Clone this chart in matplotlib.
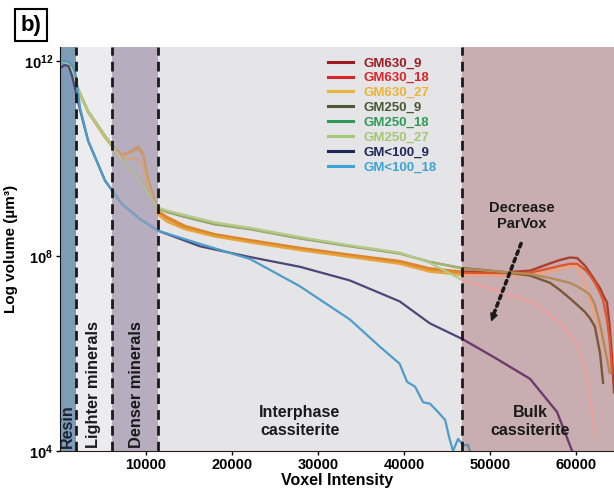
import numpy as np
import matplotlib
matplotlib.use('Agg')
import matplotlib.pyplot as plt
import matplotlib.transforms as mtransforms
from matplotlib.patches import Rectangle
from matplotlib.ticker import NullLocator

plt.rcParams['font.family'] = ['Liberation Sans', 'DejaVu Sans']
plt.rcParams['font.weight'] = 'bold'
plt.rcParams['mathtext.fontset'] = 'custom'
plt.rcParams['mathtext.rm'] = 'Liberation Sans:bold'
plt.rcParams['mathtext.bf'] = 'Liberation Sans:bold'

# ---- data (voxel intensity, log10 of volume in um^3) ----
x_coarse = [0, 800, 1300, 1860, 3260, 5230, 6050, 7200, 8200, 9070, 9650, 10230,
            11050, 11400, 12500, 14540, 18000, 22100, 27900, 33700, 39500, 43000,
            46870, 51170, 54660, 56990, 58150, 59300, 60130, 61060, 61640, 62200,
            62800, 63150, 63600, 63900, 64200, 64420]
nan = np.nan
gm630_9 = [12.0, 11.98, 11.85, 11.52, 10.97, 10.46, 10.27, 10.08, 10.15, 10.25, 10.12, 9.6,
           9.1, 8.92, 8.8, 8.62, 8.45, 8.33, 8.17, 8.03, 7.9, 7.75,
           7.68, 7.66, 7.7, 7.85, 7.92, 7.97, 7.96, 7.8, 7.65, 7.5,
           7.34, 7.2, 7.05, 6.6, 5.9, 5.2]
gm630_18 = [12.0, 11.97, 11.84, 11.5, 10.96, 10.45, 10.26, 10.07, 10.12, 10.2, 10.08, 9.58,
            9.08, 8.9, 8.76, 8.58, 8.42, 8.3, 8.14, 8.0, 7.87, 7.72,
            7.65, 7.64, 7.66, 7.75, 7.8, 7.84, 7.84, 7.72, 7.6, 7.45,
            7.25, 7.1, 6.7, 6.3, 5.6, nan]
gm630_27 = [12.0, 11.97, 11.83, 11.49, 10.95, 10.43, 10.25, 10.02, 10.0, 9.98, 9.85, 9.45,
            9.05, 8.85, 8.7, 8.55, 8.4, 8.28, 8.12, 7.98, 7.84, 7.68,
            7.61, 7.6, 7.6, 7.68, 7.73, 7.78, 7.78, 7.4, 7.1, 6.8,
            6.5, 6.2, 5.9, nan, nan, nan]
gm250_9 = [12.0, 11.98, 11.86, 11.53, 10.98, 10.47, 10.28, 9.97, 9.8, 9.62, 9.48, 9.3,
           9.05, 8.97, 8.9, 8.8, 8.65, 8.55, 8.36, 8.2, 8.05, 7.88,
           7.75, 7.68, 7.6, 7.45, 7.3, 7.13, 7.0, 6.85, 6.72, 6.55,
           6.0, 5.4, nan, nan, nan, nan]
gm250_18 = [12.0, 11.97, 11.85, 11.52, 10.96, 10.46, 10.27, 9.95, 9.78, 9.6, 9.45, 9.28,
            9.04, 8.98, 8.92, 8.82, 8.67, 8.56, 8.37, 8.21, 8.06, 7.88,
            7.74, 7.68, 7.63, 7.55, 7.5, 7.45, 7.38, 7.28, 7.2, 7.0,
            6.6, 6.3, 5.9, 5.6, nan, nan]
gm250_27 = [12.0, 11.97, 11.85, 11.52, 10.97, 10.46, 10.27, 9.96, 9.79, 9.61, 9.46, 9.29,
            9.05, 8.99, 8.93, 8.84, 8.69, 8.58, 8.39, 8.22, 8.07, 7.86,
            7.5, 7.28, 7.07, 6.8, 6.62, 6.4, 6.19, 5.7, 5.1, 4.3,
            nan, nan, nan, nan, nan, nan]

x_gm100_9 = [0, 500, 1000, 1400, 1800, 2330, 3260, 5230, 7200, 9300, 11400, 16280,
             22100, 27900, 33700, 39500, 43000, 46870, 50700, 54660, 57800, 59550]
gm100_9 = [11.85, 11.92, 11.9, 11.7, 11.4, 11.0, 10.37, 9.55, 9.07, 8.76, 8.52, 8.2,
           7.98, 7.78, 7.5, 7.07, 6.62, 6.29, 5.9, 5.48, 4.8, 4.0]
x_gm100_18 = [0, 500, 1000, 1400, 1745, 2330, 3260, 5230, 7200, 9300, 11400, 16280,
              22100, 27900, 33700, 37200, 39500, 40350, 41290, 42220, 43030, 43960,
              44780, 45240, 45700, 46290, 46870, 47450, 48000]
gm100_18 = [12.0, 12.0, 11.98, 11.92, 11.81, 11.05, 10.37, 9.55, 9.07, 8.76, 8.52, 8.25,
            7.94, 7.38, 6.7, 6.14, 5.79, 5.42, 5.32, 5.0, 4.97, 4.8,
            4.64, 4.29, 4.0, 4.25, 4.12, 4.12, 3.8]

labels = ['GM630_9', 'GM630_18', 'GM630_27', 'GM250_9', 'GM250_18', 'GM250_27',
          'GM<100_9', 'GM<100_18']
xs = [x_coarse] * 6 + [x_gm100_9, x_gm100_18]
ys = [gm630_9, gm630_18, gm630_27, gm250_9, gm250_18, gm250_27, gm100_9, gm100_18]
colors = ['#9e1b22', '#d7262b', '#e9b53a', '#4a5833', '#2f9b57', '#a5c679',
          '#1d2758', '#3ca4d6']
interp_colors = ['#d9862e', '#e0892c', '#e8a33a', '#8c9a5c', '#9fb46e', '#b5c98a',
                 '#4c4778', '#4d9dc8']
bulk_colors = ['#a8402e', '#e0552c', '#f0a27c', '#7c5638', '#b48a58', '#e9a29c',
               '#6e3a6c', '#6a8aa8']

# region boundaries (voxel intensity)
bounds = [0, 1900, 6050, 11400, 46800, 64420]
region_colors = ['#7f9cb6', '#ececee', '#b6adbf', '#e5e4e7', '#c8adb1']

fig = plt.figure(figsize=(6.14, 4.95), dpi=100)
ax = fig.add_axes([60 / 614, 44 / 495, 554 / 614, 404 / 495])
ax.set_yscale('log')
ax.set_xlim(0, 64420)
ax.set_ylim(1e4, 10 ** 12.29)

for i in range(5):
    ax.axvspan(bounds[i], bounds[i + 1], color=region_colors[i], lw=0, zorder=0)

bt = mtransforms.blended_transform_factory(ax.transData, ax.transAxes)
handles = []
for x, y, c, ci, cb, lab in zip(xs, ys, colors, interp_colors, bulk_colors, labels):
    yy = 10 ** np.array(y)
    l1, = ax.plot(x, yy, color=ci, lw=1.6, zorder=2)
    l1.set_clip_path(Rectangle((0, 0), bounds[4], 1, transform=bt))
    l2, = ax.plot(x, yy, color=cb, lw=1.7, zorder=2)
    l2.set_clip_path(Rectangle((bounds[4], 0), 30000, 1, transform=bt))
    h, = ax.plot([], [], color=c, lw=2.2)
    handles.append(h)

# tint inside denser minerals region
ax.axvspan(bounds[2], bounds[3], color=region_colors[2], alpha=0.45, lw=0, zorder=3)

for b in bounds[1:5]:
    ax.axvline(b, color='#1a1a1a', ls=(0, (3.5, 2.2)), lw=2, zorder=4)

leg = ax.legend(handles, labels, loc='upper left', bbox_to_anchor=(0.484, 0.975),
                frameon=False, prop={'weight': 'bold', 'size': 9.5},
                handlelength=1.9, handletextpad=0.75, labelspacing=0.2,
                borderaxespad=0, borderpad=0)
for t, c in zip(leg.get_texts(), colors):
    t.set_color(c)

# region labels
ax.text(810, 10 ** 4.06, 'Resin', rotation=90, ha='center', va='bottom',
        fontsize=11.5, color='#1a2233', zorder=5)
ax.text(3840, 10 ** 4.06, 'Lighter minerals', rotation=90, ha='center', va='bottom',
        fontsize=11.8, color='#1a1a1a', zorder=5)
ax.text(8840, 10 ** 4.06, 'Denser minerals', rotation=90, ha='center', va='bottom',
        fontsize=11.8, color='#1a1a1a', zorder=5)
ax.text(27900, 10 ** 4.6, 'Interphase\ncassiterite', ha='center', va='center',
        fontsize=11.5, color='#1a1a1a', linespacing=1.25, zorder=5)
ax.text(54660, 10 ** 4.6, 'Bulk\ncassiterite', ha='center', va='center',
        fontsize=11.5, color='#1a1a1a', linespacing=1.25, zorder=5)
ax.text(53730, 10 ** 8.82, 'Decrease\nParVox', ha='center', va='center',
        fontsize=10.5, color='#1a1a1a', linespacing=1.2, zorder=5)
ax.annotate('', xy=(50300, 10 ** 6.75), xytext=(53730, 10 ** 8.31),
            arrowprops=dict(arrowstyle='-', ls=(0, (1, 1.2)), lw=2.6, color='#1a1a1a'),
            zorder=5)
ax.annotate('', xy=(50010, 10 ** 6.6), xytext=(50400, 10 ** 6.78),
            arrowprops=dict(arrowstyle='-|>', lw=1, color='#1a1a1a',
                            mutation_scale=12), zorder=5)

# axes styling
for s in ['top', 'right']:
    ax.spines[s].set_visible(False)
ax.spines['left'].set_color('#111111')
ax.spines['bottom'].set_color('#2a1a1a')
ax.spines['left'].set_zorder(6)
ax.spines['bottom'].set_zorder(6)
ax.set_yticks([1e4, 1e8, 1e12])
ax.set_yticklabels([r'$\mathbf{10^{4}}$', r'$\mathbf{10^{8}}$', r'$\mathbf{10^{12}}$'])
ax.yaxis.set_minor_locator(NullLocator())
ax.set_xticks([10000, 20000, 30000, 40000, 50000, 60000])
ax.tick_params(axis='both', labelsize=10.5, length=3, width=1, pad=2)
ax.set_xlabel('Voxel Intensity', fontsize=11.5, fontweight='bold', labelpad=1)
ax.set_ylabel('Log volume (µm³)', fontsize=11, fontweight='bold', labelpad=4)

fig.text(31 / 614, 1 - 25 / 495, 'b)', fontsize=16, fontweight='bold',
         ha='center', va='center',
         bbox=dict(boxstyle='square,pad=0.25', fc='white', ec='black', lw=1.5))

fig.savefig('out.png', dpi=100)
